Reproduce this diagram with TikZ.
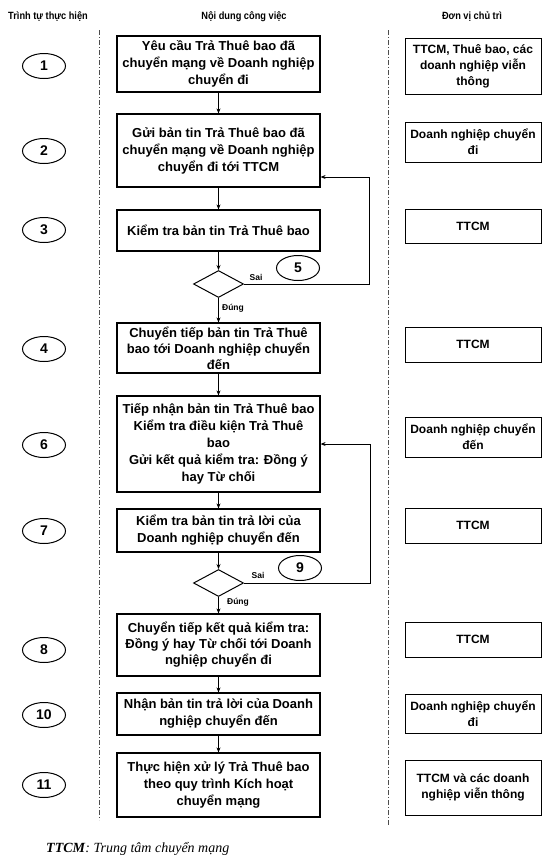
\documentclass[tikz,border=0pt]{standalone}
\usepackage{fontspec}
\setmainfont{Liberation Sans}
\newfontfamily\serifit{Liberation Serif}
\newfontfamily\narrowfont{Liberation Sans}[FakeStretch=0.88]
\usetikzlibrary{shapes.geometric,arrows.meta}
\begin{document}
\begin{tikzpicture}[x=1pt,y=-1pt,
  box/.style={draw, line width=1.2pt, minimum width=203pt, align=center, inner sep=0pt,
    font=\fontsize{13}{17}\selectfont\bfseries},
  tightbox/.style={box, font=\fontsize{13}{16}\selectfont\bfseries},
  rbox/.style={draw, line width=1pt, minimum width=136pt, align=center, inner sep=0pt,
    font=\fontsize{12}{16}\selectfont\bfseries},
  num/.style={ellipse, draw, line width=1pt, minimum width=43pt, minimum height=25pt,
    inner sep=0pt, font=\fontsize{14}{14}\selectfont\bfseries},
  decision/.style={diamond, draw, line width=1pt, minimum width=50pt, minimum height=27pt,
    inner sep=0pt},
  lbl/.style={inner sep=0pt, font=\fontsize{8.5}{9}\selectfont\bfseries},
  head/.style={inner sep=0pt, font=\narrowfont\fontsize{10.5}{12}\selectfont\bfseries},
  sep/.style={line width=0.7pt, black!70, dash pattern=on 5pt off 2pt on 1pt off 2pt},
  arr/.style={line width=0.9pt, -{Stealth[length=5pt,width=4pt]}}
]
\path[use as bounding box, fill=white] (0,0) rectangle (560,863);

% headers
\node[head] (h1) at (48,17) {Trình tự thực hiện};
\node[head] (h2) at (244,17) {Nội dung công việc};
\node[head] (h3) at (472,17) {Đơn vị chủ trì};

% separators
\coordinate (dl1) at (99,30);
\coordinate (dl2) at (99,820);
\coordinate (dr1) at (388,30);
\coordinate (dr2) at (388,825);
\draw[sep] (dl1) -- (dl2);
\draw[sep] (dr1) -- (dr2);

% main boxes
\node[box, minimum height=56pt] (b1) at (218.5,64) {Yêu cầu Trả Thuê bao đã\\chuyển mạng về Doanh nghiệp\\chuyển đi};
\node[box, minimum height=73pt] (b2) at (218.5,150.5) {Gửi bản tin Trả Thuê bao đã\\chuyển mạng về Doanh nghiệp\\chuyển đi tới TTCM};
\node[box, minimum height=41pt] (b3) at (218.5,230.5) {Kiểm tra bản tin Trả Thuê bao};
\node[decision] (d1) at (218.5,284) {};
\node[tightbox, minimum height=50pt] (b4) at (218.5,348) {Chuyển tiếp bản tin Trả Thuê\\bao tới Doanh nghiệp chuyển\\đến};
\node[box, minimum height=96pt] (b6) at (218.5,444) {Tiếp nhận bản tin Trả Thuê bao\\Kiểm tra điều kiện Trả Thuê\\bao\\Gửi kết quả kiểm tra: Đồng ý\\hay Từ chối};
\node[box, minimum height=43pt] (b7) at (218.5,530.5) {Kiểm tra bản tin trả lời của\\Doanh nghiệp chuyển đến};
\node[decision] (d2) at (218.5,583) {};
\node[tightbox, minimum height=62pt] (b8) at (218.5,645) {Chuyển tiếp kết quả kiểm tra:\\Đồng ý hay Từ chối tới Doanh\\nghiệp chuyển đi};
\node[box, minimum height=42pt] (b10) at (218.5,714) {Nhận bản tin trả lời của Doanh\\nghiệp chuyển đến};
\node[box, minimum height=64pt] (b11) at (218.5,785) {Thực hiện xử lý Trả Thuê bao\\theo quy trình Kích hoạt\\chuyển mạng};

% right boxes
\node[rbox, minimum height=56pt] (r1) at (473,66) {TTCM, Thuê bao, các\\doanh nghiệp viễn\\thông};
\node[rbox, minimum height=40pt] (r2) at (473,142) {Doanh nghiệp chuyển\\đi};
\node[rbox, minimum height=34pt] (r3) at (473,226) {TTCM};
\node[rbox, minimum height=35pt] (r4) at (473,344.5) {TTCM};
\node[rbox, minimum height=40pt] (r6) at (473,437) {Doanh nghiệp chuyển\\đến};
\node[rbox, minimum height=35pt] (r7) at (473,525.5) {TTCM};
\node[rbox, minimum height=35pt] (r8) at (473,639.5) {TTCM};
\node[rbox, minimum height=39pt] (r10) at (473,713.5) {Doanh nghiệp chuyển\\đi};
\node[rbox, minimum height=55pt] (r11) at (473,787.5) {TTCM và các doanh\\nghiệp viễn thông};

% step numbers
\node[num] (n1) at (44,66) {1};
\node[num] (n2) at (44,151) {2};
\node[num] (n3) at (44,230) {3};
\node[num] (n4) at (44,349) {4};
\node[num] (n6) at (44,445) {6};
\node[num] (n7) at (44,531) {7};
\node[num] (n8) at (44,650) {8};
\node[num] (n10) at (44,715) {10};
\node[num] (n11) at (44,785) {11};
\node[num] (n5) at (298,268) {5};
\node[num] (n9) at (300,568) {9};

% labels
\node[lbl] (s1) at (256,277) {Sai};
\node[lbl] (s2) at (258,575) {Sai};
\node[lbl] (t1) at (233,308) {Đúng};
\node[lbl] (t2) at (238,602) {Đúng};

% flow
\draw[arr] (b1) -- (b2);
\draw[arr] (b2) -- (b3);
\draw[arr] (b3) -- (d1);
\draw[arr] (d1) -- (b4);
\draw[arr] (b4) -- (b6);
\draw[arr] (b6) -- (b7);
\draw[arr] (b7) -- (d2);
\draw[arr] (d2) -- (b8);
\draw[arr] (b8) -- (b10);
\draw[arr] (b10) -- (b11);

% loops
\coordinate (l1) at (369,177);
\coordinate (l2) at (370,444);
\draw[arr] (d1.east) -| (l1) -- (b2.east |- l1);
\draw[arr] (d2.east) -| (l2) -- (b6.east |- l2);

% footer
\node[anchor=west, inner sep=0pt] (foot) at (46,849) {\serifit\fontsize{14}{15}\selectfont\textbf{\textit{TTCM}}\textit{: Trung tâm chuyển mạng}};
\end{tikzpicture}
\end{document}
